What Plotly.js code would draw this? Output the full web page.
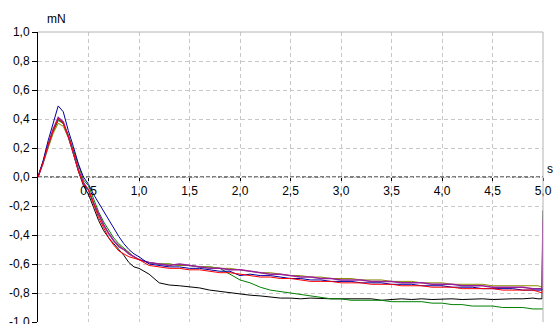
<!DOCTYPE html>
<html>
<head>
<meta charset="utf-8">
<script src="https://cdn.plot.ly/plotly-3.0.1.min.js"></script>
<style>html,body{margin:0;padding:0;background:#fff;}#chart{width:553px;height:324px;}</style>
</head>
<body>
<div id="chart"></div>
<script>
// time axis (s)
var time = [0, 0.05, 0.1, 0.15, 0.2, 0.25, 0.3, 0.35, 0.4, 0.45, 0.5, 0.55, 0.6, 0.65, 0.7, 0.75, 0.8, 0.85, 0.9, 0.95, 1.0,
  1.1, 1.2, 1.3, 1.4, 1.5, 1.6, 1.7, 1.8, 1.9, 2.0, 2.1, 2.2, 2.3, 2.4, 2.5, 2.6, 2.7, 2.8, 2.9, 3.0,
  3.1, 3.2, 3.3, 3.4, 3.5, 3.6, 3.7, 3.8, 3.9, 4.0, 4.1, 4.2, 4.3, 4.4, 4.5, 4.6, 4.7, 4.8, 4.9, 4.95, 4.99, 5.0];

// force (mN)
var blackSeries = [0, 0.10, 0.22, 0.32, 0.40, 0.37, 0.28, 0.16, 0.04, -0.06, -0.12, -0.21, -0.30, -0.37, -0.42, -0.46, -0.50, -0.54, -0.59, -0.62, -0.63,
  -0.67, -0.73, -0.745, -0.75, -0.755, -0.765, -0.78, -0.79, -0.80, -0.81, -0.815, -0.82, -0.83, -0.835, -0.835, -0.84, -0.835, -0.84, -0.84, -0.84,
  -0.84, -0.845, -0.84, -0.85, -0.845, -0.84, -0.845, -0.84, -0.845, -0.84, -0.84, -0.845, -0.84, -0.84, -0.845, -0.84, -0.84, -0.84, -0.835, -0.84, -0.84, -0.23];
var greenSeries = [0, 0.10, 0.21, 0.31, 0.39, 0.37, 0.29, 0.19, 0.08, -0.02, -0.06, -0.15, -0.24, -0.31, -0.37, -0.42, -0.46, -0.49, -0.52, -0.55, -0.57,
  -0.59, -0.60, -0.60, -0.61, -0.61, -0.62, -0.62, -0.63, -0.67, -0.71, -0.73, -0.76, -0.78, -0.79, -0.80, -0.81, -0.82, -0.83, -0.84, -0.84,
  -0.85, -0.85, -0.85, -0.85, -0.86, -0.86, -0.86, -0.86, -0.87, -0.87, -0.88, -0.88, -0.89, -0.89, -0.89, -0.90, -0.90, -0.90, -0.91, -0.91, -0.91, -0.91];
var oliveSeries = [0, 0.09, 0.20, 0.30, 0.37, 0.35, 0.27, 0.17, 0.05, -0.04, -0.09, -0.18, -0.26, -0.33, -0.39, -0.44, -0.47, -0.50, -0.52, -0.55, -0.57,
  -0.59, -0.60, -0.60, -0.61, -0.61, -0.62, -0.62, -0.63, -0.63, -0.64, -0.65, -0.66, -0.66, -0.67, -0.68, -0.68, -0.69, -0.69, -0.70, -0.70,
  -0.70, -0.71, -0.71, -0.71, -0.72, -0.72, -0.72, -0.73, -0.73, -0.73, -0.74, -0.74, -0.74, -0.74, -0.75, -0.75, -0.75, -0.75, -0.75, -0.75, -0.76, -0.75];
var purpleSeries = [0, 0.10, 0.22, 0.33, 0.41, 0.38, 0.28, 0.17, 0.05, -0.04, -0.09, -0.18, -0.26, -0.33, -0.39, -0.44, -0.48, -0.50, -0.53, -0.55, -0.57,
  -0.59, -0.60, -0.61, -0.60, -0.61, -0.62, -0.63, -0.63, -0.64, -0.64, -0.65, -0.66, -0.67, -0.67, -0.68, -0.69, -0.69, -0.70, -0.70, -0.71,
  -0.71, -0.71, -0.72, -0.72, -0.72, -0.73, -0.73, -0.73, -0.74, -0.74, -0.74, -0.75, -0.75, -0.75, -0.76, -0.76, -0.76, -0.76, -0.77, -0.77, -0.77, -0.30];
var blueSeries = [0, 0.11, 0.25, 0.37, 0.49, 0.45, 0.32, 0.21, 0.09, 0.00, -0.05, -0.12, -0.18, -0.24, -0.30, -0.36, -0.41, -0.46, -0.50, -0.53, -0.55,
  -0.60, -0.61, -0.62, -0.62, -0.63, -0.63, -0.64, -0.65, -0.65, -0.68, -0.67, -0.68, -0.68, -0.69, -0.70, -0.70, -0.71, -0.71, -0.72, -0.72,
  -0.72, -0.73, -0.73, -0.73, -0.74, -0.74, -0.74, -0.75, -0.75, -0.75, -0.76, -0.76, -0.76, -0.77, -0.77, -0.77, -0.77, -0.78, -0.78, -0.78, -0.78, -0.77];
var redSeries = [0, 0.10, 0.22, 0.32, 0.40, 0.37, 0.28, 0.17, 0.04, -0.05, -0.09, -0.19, -0.28, -0.35, -0.42, -0.47, -0.51, -0.53, -0.55, -0.56, -0.57,
  -0.61, -0.62, -0.63, -0.63, -0.64, -0.64, -0.65, -0.66, -0.66, -0.67, -0.68, -0.69, -0.69, -0.70, -0.70, -0.71, -0.72, -0.72, -0.72, -0.73,
  -0.73, -0.73, -0.74, -0.74, -0.74, -0.75, -0.75, -0.75, -0.76, -0.76, -0.76, -0.77, -0.77, -0.77, -0.77, -0.78, -0.78, -0.78, -0.78, -0.79, -0.80, -0.78];

var xTickVals = [0.5, 1.0, 1.5, 2.0, 2.5, 3.0, 3.5, 4.0, 4.5, 5.0];
var xTickText = ["0,5", "1,0", "1,5", "2,0", "2,5", "3,0", "3,5", "4,0", "4,5", "5,0"];
var yTickVals = [1.0, 0.8, 0.6, 0.4, 0.2, 0.0, -0.2, -0.4, -0.6, -0.8, -1.0];
var yTickText = ["1,0", "0,8", "0,6", "0,4", "0,2", "0,0", "-0,2", "-0,4", "-0,6", "-0,8", "-1,0"];

var seriesList = [
  {y: blackSeries, color: "#000000", w: 1},
  {y: greenSeries, color: "#008000", w: 1},
  {y: oliveSeries, color: "#8c8c00", w: 1},
  {y: purpleSeries, color: "#9a1f9a", w: 1.5},
  {y: blueSeries, color: "#0000a0", w: 1},
  {y: redSeries, color: "#ff0000", w: 1}
];
var traces = seriesList.map(function (s) {
  return {x: time, y: s.y, type: "scatter", mode: "lines",
    line: {color: s.color, width: s.w}, hoverinfo: "skip", showlegend: false};
});

var font = {family: "Liberation Sans, Arial, sans-serif", size: 12, color: "#000"};
var layout = {
  width: 553, height: 324,
  margin: {l: 38, r: 10, t: 32, b: 2, pad: 0},
  paper_bgcolor: "#ffffff", plot_bgcolor: "#ffffff",
  font: font,
  showlegend: false,
  xaxis: {
    range: [0, 5], anchor: "free", position: 0.5,
    tickvals: xTickVals, ticktext: xTickText,
    ticks: "outside", ticklen: 3, tickcolor: "#000", tickwidth: 1,
    showgrid: true, gridcolor: "#c8c8c8", griddash: "4px,3px", gridwidth: 1,
    zeroline: false, showline: false, tickfont: font, ticklabeloverflow: "allow"
  },
  yaxis: {
    range: [-1, 1],
    tickvals: yTickVals, ticktext: yTickText,
    ticks: "outside", ticklen: 5, tickcolor: "#000", tickwidth: 1,
    showgrid: true, gridcolor: "#c8c8c8", griddash: "4px,3px", gridwidth: 1,
    zeroline: false, showline: true, linecolor: "#000", linewidth: 1, tickfont: font,
    ticklabeloverflow: "allow"
  },
  shapes: [
    {type: "line", xref: "paper", yref: "paper", x0: 0, x1: 1, y0: 1, y1: 1, line: {color: "#b4b4b4", width: 1}},
    {type: "line", xref: "paper", yref: "paper", x0: 1, x1: 1, y0: 0, y1: 1, line: {color: "#b4b4b4", width: 1}},
    {type: "line", xref: "paper", yref: "y", x0: 0, x1: 1, y0: 0, y1: 0, line: {color: "#000", width: 1, dash: "4px,2px"}, layer: "below"}
  ],
  annotations: [
    {text: "mN", xref: "paper", yref: "paper", x: 0, y: 1, xanchor: "center", yanchor: "middle", xshift: 18, yshift: 13, showarrow: false, font: font},
    {text: "s", xref: "paper", yref: "y", x: 1, y: 0, xanchor: "left", yanchor: "middle", xshift: 2, yshift: 8, showarrow: false, font: font}
  ]
};
Plotly.newPlot("chart", traces, layout, {displayModeBar: false, staticPlot: true});
</script>
</body>
</html>
